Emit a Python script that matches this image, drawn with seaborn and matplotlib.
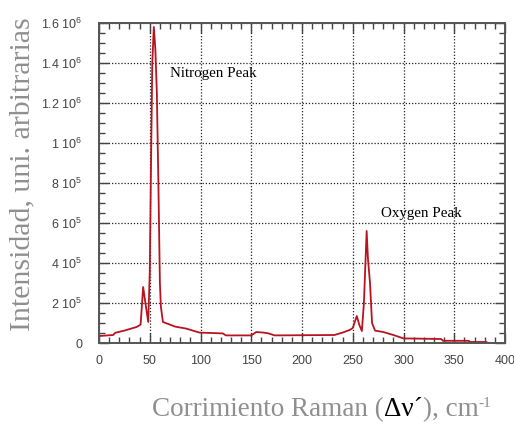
import matplotlib
matplotlib.use("Agg")
import matplotlib.pyplot as plt
import matplotlib.ticker as mticker
import seaborn as sns
import pandas as pd

# Raman shift (cm^-1) and intensity (arbitrary units)
raman_shift = [0, 14, 16, 25, 37, 41, 43.5, 46, 48.5, 50, 51.5, 52.5, 54, 55.5,
               57, 58.5, 60, 61, 63, 75, 86, 99, 122, 125, 150, 155, 162, 167,
               173, 232, 240, 247, 250, 254, 256.5, 259, 261, 263.7, 265, 267, 269,
               272, 280, 290, 300, 337, 339, 364, 366, 382]
intensity = [35000, 40000, 51000, 62000, 80000, 92000, 280000, 190000, 105000,
             350000, 1000000, 1400000, 1580000, 1470000, 1250000, 800000, 300000,
             180000, 105000, 82000, 72000, 52000, 48000, 38000, 38000, 55000,
             52000, 48000, 38000, 40000, 52000, 65000, 75000, 135000, 90000, 60000,
             200000, 560000, 420000, 300000, 100000, 62000, 55000, 40000, 23000,
             20000, 11000, 11000, 5000, 5000]

y_ticks = [0, 200000, 400000, 600000, 800000, 1000000, 1200000, 1400000, 1600000]
y_tick_labels = ["0", "2 10$^5$", "4 10$^5$", "6 10$^5$", "8 10$^5$", "1 10$^6$",
                 "1.2 10$^6$", "1.4 10$^6$", "1.6 10$^6$"]
x_ticks = [0, 50, 100, 150, 200, 250, 300, 350, 400]

annotations = ["Nitrogen Peak", "Oxygen Peak"]
annot_x = [70, 278]
annot_y = [1350000, 650000]

sns.set_style("white")
plt.rcParams["mathtext.default"] = "regular"
plt.rcParams["font.family"] = ["Liberation Sans", "DejaVu Sans"]

df = pd.DataFrame({"shift": raman_shift, "intensity": intensity})

fig = plt.figure(figsize=(5.14, 4.24), dpi=100)
ax = fig.add_axes([99 / 514, 81 / 424, 406 / 514, 320 / 424])

sns.lineplot(data=df, x="shift", y="intensity", ax=ax, color="#b8141f",
             linewidth=1.3, sort=False)

ax.set_xlim(0, 400)
ax.set_ylim(0, 1600000)
ax.set_xticks(x_ticks)
ax.set_xticklabels([str(v) for v in x_ticks])
ax.set_yticks(y_ticks)
ax.set_yticklabels(y_tick_labels)
ax.xaxis.set_minor_locator(mticker.MultipleLocator(10))
ax.yaxis.set_minor_locator(mticker.MultipleLocator(50000))

ax.grid(True, which="major", color="#222222", linestyle=(0, (1, 1.5)), linewidth=0.9)
ax.tick_params(which="both", direction="in", top=True, right=True,
               bottom=True, left=True, color="#444444")
ax.tick_params(which="major", length=7, width=1.0, labelsize=9,
               labelcolor="#444444", pad=12)
ax.tick_params(axis="x", which="major", pad=9)
ax.tick_params(which="minor", length=4, width=1.0)
for s in ax.spines.values():
    s.set_color("#555555")
    s.set_linewidth(1.4)

ax.set_xlabel("")
ax.set_ylabel("")

for txt, xx, yy in zip(annotations, annot_x, annot_y):
    ax.text(xx, yy, txt, fontsize=10.8, family="Liberation Serif",
            color="black", va="center", ha="left")

fig.text(22 / 514, 1 - 174 / 424, "Intensidad, uni. arbitrarias", rotation=90,
         fontsize=21.5, family="Liberation Serif", color="#8f8f8f",
         ha="center", va="center")

# x label built from pieces (Δν´ in black, small raised "-1")
parts = [("Corrimiento Raman (", "#8f8f8f", 19.5, 0),
         ("\u0394\u03bd\u00b4", "black", 19.5, 0),
         ("), cm", "#8f8f8f", 19.5, 0),
         ("-1", "#8f8f8f", 11, 9)]
fig.canvas.draw()
renderer = fig.canvas.get_renderer()
texts = []
total = 0
base_y = 416
for s, c, fs, dy in parts:
    t = fig.text(0, 1 - (base_y - dy) / 424, s, fontsize=fs,
                 family="Liberation Serif", color=c, ha="left", va="baseline")
    w = t.get_window_extent(renderer).width
    texts.append((t, w))
    total += w
start = 322 - total / 2
pos = start
for t, w in texts:
    t.set_x(pos / 514)
    pos += w

fig.savefig("out.png", dpi=100)
